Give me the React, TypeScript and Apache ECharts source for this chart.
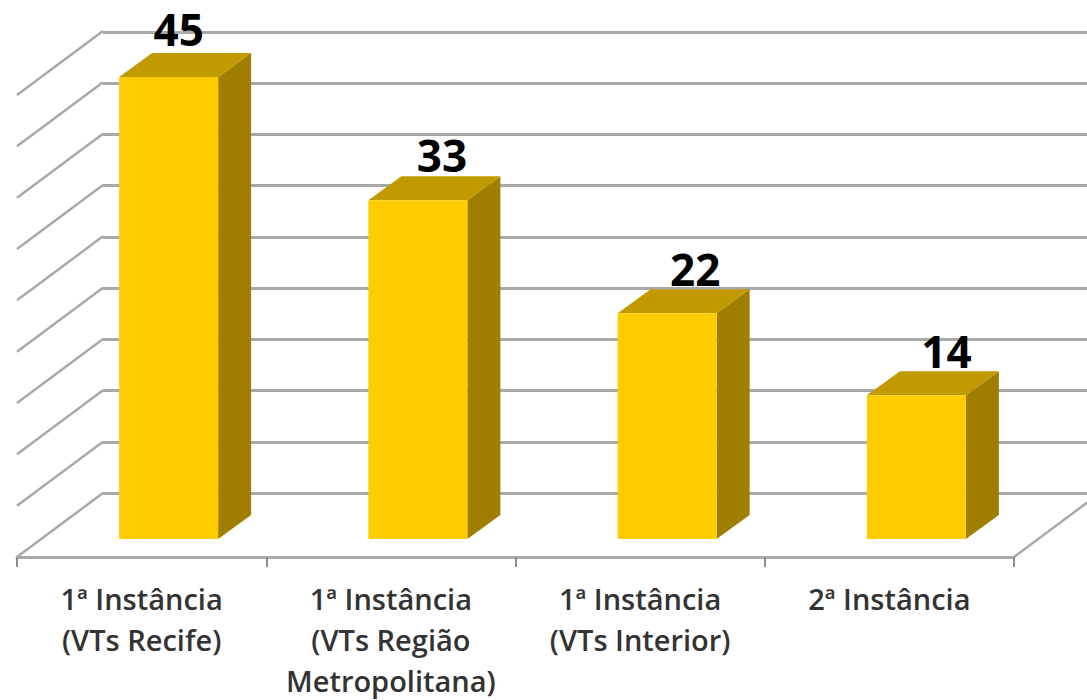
import React, { useEffect, useRef } from "react";
import * as echarts from "echarts";

const categories = [
  "1ª Instância\n(VTs Recife)",
  "1ª Instância\n(VTs Região\nMetropolitana)",
  "1ª Instância\n(VTs Interior)",
  "2ª Instância",
];
const values = [45, 33, 22, 14];
const gridTicks = [0, 5, 10, 15, 20, 25, 30, 35, 40, 45];
const labelNudge = [10, 24, 28, 30];
const labelLift = [48, 45, 44, 44];

const WALL_DX = 86;
const WALL_DY = -64;
const BAR_DX = 27;
const BAR_DY = -18;
const BAR_HALF = 49.5;
const SIDE_DX = 33;
const SIDE_DY = -24;
const GRID_COLOR = "#a9a9a9";

export default function App() {
  const ref = useRef<HTMLDivElement>(null);
  useEffect(() => {
    const chart = echarts.init(ref.current!, undefined, { renderer: "svg" });
    chart.setOption({
      animation: false,
      backgroundColor: "#ffffff",
      grid: [
        { left: 17, top: 95, width: 997, height: 462, outerBoundsMode: "none" },
        { left: 103, top: 32, width: 997, height: 461, outerBoundsMode: "none" },
      ],
      xAxis: [
        {
          type: "category",
          gridIndex: 0,
          data: categories,
          axisLine: { show: true, lineStyle: { color: GRID_COLOR, width: 3 } },
          axisTick: { show: true, length: 10, lineStyle: { color: "#8c8c8c", width: 2 } },
          axisLabel: {
            interval: 0,
            margin: 21,
            fontFamily: "Open Sans",
            fontWeight: 600,
            fontSize: 29,
            lineHeight: 41,
            color: "#333333",
          },
        },
        { type: "category", gridIndex: 1, data: categories, show: false },
      ],
      yAxis: [
        {
          type: "value",
          gridIndex: 0,
          min: 0,
          max: 45,
          interval: 5,
          axisLine: { show: false },
          axisTick: { show: false },
          axisLabel: { show: false },
          splitLine: { show: false },
        },
        {
          type: "value",
          gridIndex: 1,
          min: 0,
          max: 45,
          interval: 5,
          axisLine: { show: false },
          axisTick: { show: false },
          axisLabel: { show: false },
          splitLine: { show: true, lineStyle: { color: GRID_COLOR, width: 3 } },
        },
      ],
      series: [
        {
          type: "custom",
          name: "walls",
          xAxisIndex: 0,
          yAxisIndex: 0,
          z: 1,
          silent: true,
          clip: false,
          data: gridTicks.map((t) => [0, t]),
          renderItem: (params: any, api: any) => {
            const y = api.coord([0, api.value(1)])[1];
            const x0 = params.coordSys.x;
            const children: any[] = [
              {
                type: "line",
                shape: { x1: x0, y1: y, x2: x0 + WALL_DX, y2: y + WALL_DY },
                style: { stroke: GRID_COLOR, lineWidth: 2.5 },
              },
            ];
            if (api.value(1) === 0) {
              const xr = x0 + params.coordSys.width;
              children.push({
                type: "line",
                shape: { x1: xr, y1: y, x2: xr + WALL_DX, y2: y + WALL_DY },
                style: { stroke: GRID_COLOR, lineWidth: 2.5 },
              });
            }
            return { type: "group", children };
          },
        },
        {
          type: "custom",
          name: "bars",
          xAxisIndex: 0,
          yAxisIndex: 0,
          z: 3,
          clip: false,
          data: values.map((v, i) => [i, v]),
          renderItem: (_params: any, api: any) => {
            const i = api.value(0);
            const v = api.value(1);
            const top = api.coord([i, v]);
            const base = api.coord([i, 0]);
            const xl = top[0] + BAR_DX - BAR_HALF;
            const xr = top[0] + BAR_DX + BAR_HALF;
            const yt = top[1] + BAR_DY;
            const yb = base[1] + BAR_DY;
            return {
              type: "group",
              children: [
                {
                  type: "polygon",
                  shape: {
                    points: [
                      [xr, yt],
                      [xr + SIDE_DX, yt + SIDE_DY],
                      [xr + SIDE_DX, yb + SIDE_DY],
                      [xr, yb],
                    ],
                  },
                  style: { fill: "#a07f00" },
                },
                {
                  type: "polygon",
                  shape: {
                    points: [
                      [xl, yt],
                      [xl + SIDE_DX, yt + SIDE_DY],
                      [xr + SIDE_DX, yt + SIDE_DY],
                      [xr, yt],
                    ],
                  },
                  style: { fill: "#c19a00" },
                },
                {
                  type: "rect",
                  shape: { x: xl, y: yt, width: xr - xl, height: yb - yt },
                  style: { fill: "#ffcc00" },
                },
                {
                  type: "text",
                  x: top[0] + BAR_DX + labelNudge[i],
                  y: yt - labelLift[i],
                  style: {
                    text: String(v),
                    fontFamily: "Open Sans",
                    fontWeight: 700,
                    fontSize: 44,
                    fill: "#000000",
                    align: "center",
                    verticalAlign: "middle",
                  },
                },
              ],
            };
          },
        },
      ],
    });
    return () => chart.dispose();
  }, []);
  return (
    <div
      ref={ref}
      style={{ position: "fixed", left: 0, top: 0, width: 1087, height: 700 }}
    />
  );
}
